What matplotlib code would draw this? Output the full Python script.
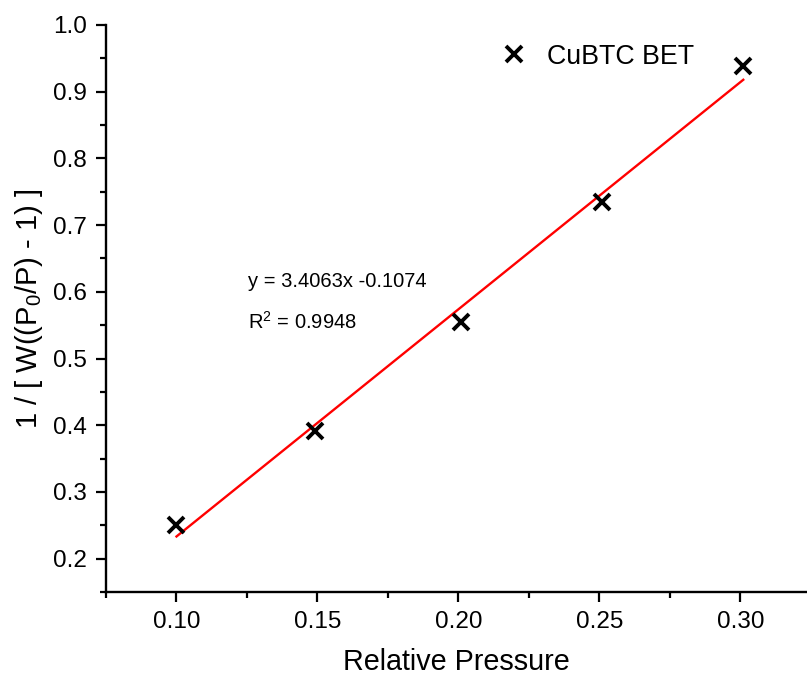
import matplotlib
matplotlib.use("Agg")
import matplotlib.pyplot as plt
import numpy as np
from matplotlib.ticker import MultipleLocator

plt.rcParams['font.family'] = ['Liberation Sans', 'DejaVu Sans']
plt.rcParams['mathtext.default'] = 'regular'

# Data
relative_pressure = [0.100, 0.149, 0.201, 0.251, 0.301]
bet_values = [0.251, 0.391, 0.555, 0.734, 0.939]
fit_slope = 3.4063
fit_intercept = -0.1074
fit_r2 = 0.9948
series_label = "CuBTC BET"

fig = plt.figure(figsize=(8.07, 6.77), dpi=100)
ax = fig.add_axes([106 / 807, 85 / 677, 701 / 807, 567 / 677])

ax.plot(relative_pressure, bet_values, linestyle='none', marker='x', color='black',
        markersize=11, markeredgewidth=2.8, label=series_label, zorder=3)
fx = np.array([relative_pressure[0], relative_pressure[-1]])
ax.plot(fx, fit_slope * fx + fit_intercept, color='red', lw=1.7, zorder=2)

ax.set_xlim(0.075, 0.3236)
ax.set_ylim(0.15, 1.0)
ax.xaxis.set_minor_locator(MultipleLocator(0.025))
ax.yaxis.set_minor_locator(MultipleLocator(0.05))
ax.set_xticks([0.10, 0.15, 0.20, 0.25, 0.30])
ax.set_xticklabels(['0.10', '0.15', '0.20', '0.25', '0.30'])
ax.set_yticks([0.2, 0.3, 0.4, 0.5, 0.6, 0.7, 0.8, 0.9, 1.0])
ax.set_yticklabels(['0.2', '0.3', '0.4', '0.5', '0.6', '0.7', '0.8', '0.9', '1.0'])

for s in ['top', 'right']:
    ax.spines[s].set_visible(False)
for s in ['left', 'bottom']:
    ax.spines[s].set_linewidth(1.7)
ax.tick_params(which='major', direction='out', length=7.5, width=1.6, labelsize=17.5, pad=6)
ax.tick_params(which='minor', direction='out', length=4.2, width=1.6)

ax.set_xlabel('Relative Pressure', fontsize=20.7, labelpad=11)
ax.set_ylabel('1 / [ W((P$_0$/P) - 1) ]', fontsize=21, labelpad=6)

ax.text(0.2026, 0.547, f'y = {fit_slope}x {fit_intercept}', transform=ax.transAxes,
        fontsize=14.5, va='center', ha='left')
ax.text(0.2026, 0.476, f'R$^2$ = {fit_r2}', transform=ax.transAxes,
        fontsize=14.5, va='center', ha='left')

leg = ax.legend(loc='center left', bbox_to_anchor=(0.528, 0.944), frameon=False,
                fontsize=19.3, handlelength=1.0, handletextpad=0.75)

fig.savefig('out.png', dpi=100)
